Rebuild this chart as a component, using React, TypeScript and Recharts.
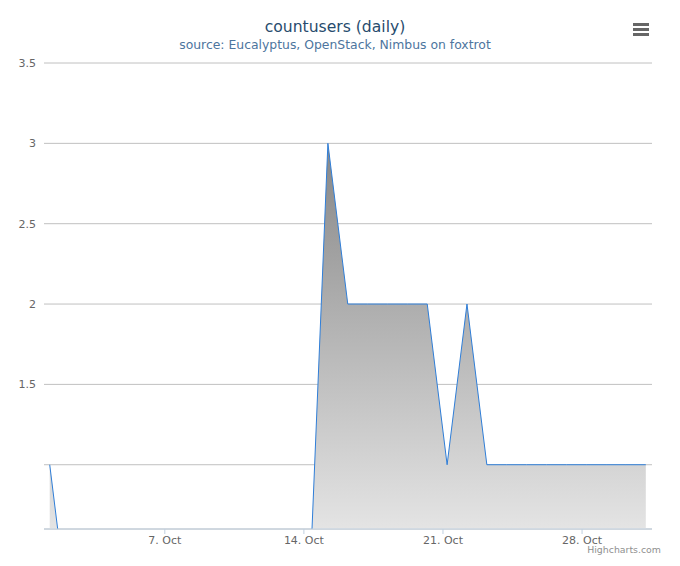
import React from "react"
import { AreaChart, Area, XAxis, YAxis, CartesianGrid } from "recharts"

// days of October, and the daily count of users
const days = [1, 2, 3, 4, 5, 6, 7, 8, 9, 10, 11, 12, 13, 14, 15, 16, 17, 18, 19, 20, 21, 22, 23, 24, 25, 26, 27, 28, 29, 30, 31]
const users = [1, 0, 0, 0, 0, 0, 0, 0, 0, 0, 0, 0, 0, 0, 3, 2, 2, 2, 2, 2, 1, 2, 1, 1, 1, 1, 1, 1, 1, 1, 1]
// samples were stamped a few hours after midnight
const stampHours = 5
const xTicks = [7, 14, 21, 28]
const yTicks = [1, 1.5, 2, 2.5, 3, 3.5]

const data = days.map((d, i) => ({ t: d + stampHours / 24, users: users[i] }))

const font = '"DejaVu Sans", Verdana, sans-serif'

export default function App() {
  return (
    <div style={{ position: "absolute", left: 0, top: 0, width: 680, height: 566, background: "#fff", fontFamily: font }}>
      <div style={{ position: "absolute", top: 18, width: 670, textAlign: "center", fontSize: 15.6, color: "#274b6d" }}>
        countusers (daily)
      </div>
      <div style={{ position: "absolute", top: 37, width: 670, textAlign: "center", fontSize: 12.4, color: "#4d759e" }}>
        source: Eucalyptus, OpenStack, Nimbus on foxtrot
      </div>
      <svg style={{ position: "absolute", left: 630, top: 20 }} width={22} height={18}>
        <path d="M3 4.5 H19 M3 9.5 H19 M3 14.5 H19" stroke="#666" strokeWidth={3} />
      </svg>

      <AreaChart width={680} height={566} data={data} margin={{ top: 63, right: 28, bottom: 0, left: 0 }}>
        <defs>
          <linearGradient id="fillGrey" gradientUnits="userSpaceOnUse" x1="0" y1="143" x2="0" y2="529">
            <stop offset="0" stopColor="#868686" />
            <stop offset="1" stopColor="#e4e4e4" />
          </linearGradient>
        </defs>
        <CartesianGrid horizontal vertical={false} stroke="#c0c0c0" />
        <XAxis
          type="number"
          dataKey="t"
          domain={[0.92, 31.52]}
          allowDataOverflow
          ticks={xTicks}
          tickFormatter={(d) => `${d}. Oct`}
          height={37}
          tickSize={5}
          axisLine={{ stroke: "#c0d0e0" }}
          tickLine={{ stroke: "#c0d0e0" }}
          tick={{ fontSize: 11, fill: "#666", fontFamily: font }}
        />
        <YAxis
          type="number"
          domain={[0.6, 3.5]}
          allowDataOverflow
          ticks={yTicks}
          tickFormatter={(v) => (v === 1 ? "" : String(v))}
          width={44}
          axisLine={false}
          tickLine={false}
          tick={{ fontSize: 11, fill: "#666", fontFamily: font }}
        />
        <Area
          type="linear"
          dataKey="users"
          stroke="#2f7ed8"
          strokeWidth={1}
          fill="url(#fillGrey)"
          fillOpacity={1}
          dot={false}
          activeDot={false}
          isAnimationActive={false}
        />
      </AreaChart>

      <div style={{ position: "absolute", right: 19, top: 544, fontSize: 9.4, color: "#909090" }}>Highcharts.com</div>
    </div>
  )
}
